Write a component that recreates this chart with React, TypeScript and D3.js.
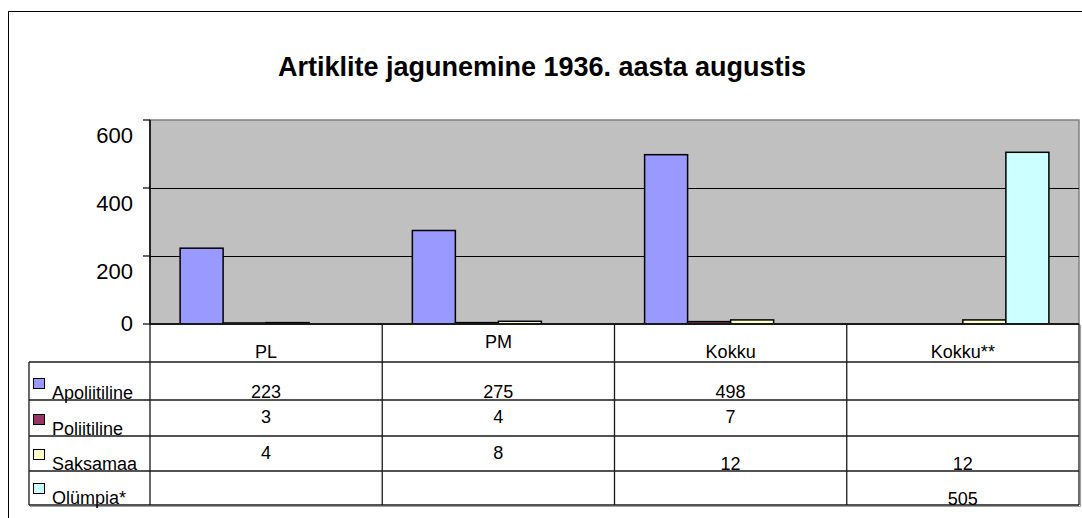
import * as d3 from 'd3';
import React from 'react';

// chart data
const categories = ['PL', 'PM', 'Kokku', 'Kokku**'];
const seriesNames = ['Apoliitiline', 'Poliitiline', 'Saksamaa', 'Olümpia*'];
const apoliitiline: (number | null)[] = [223, 275, 498, null];
const poliitiline: (number | null)[] = [3, 4, 7, null];
const saksamaa: (number | null)[] = [4, 8, 12, 12];
const olumpia: (number | null)[] = [null, null, null, 505];
const yTicks = [0, 200, 400, 600];
const title = 'Artiklite jagunemine 1936. aasta augustis';

const seriesValues = [apoliitiline, poliitiline, saksamaa, olumpia];
const colors = ['#9999FF', '#993366', '#FFFFCC', '#CCFFFF'];

const width = 1082;
const height = 518;
const plot = { left: 150, right: 1079, top: 120, bottom: 324 };
const rowEdges = [362, 400, 436, 471, 505];
const legendLeft = 29;
const font = '"Liberation Sans", Arial, sans-serif';

// cells whose text sits high in the cell in the original (Excel quirk)
const raisedHeader = new Set(['PM']);
const raisedCells = new Set(['1-0', '1-1', '1-2', '2-0', '2-1']);

export default function App() {
    const x = d3.scaleBand().domain(categories).range([plot.left, plot.right]).padding(0);
    const inner = d3
        .scaleBand()
        .domain(seriesNames)
        .range([0, x.bandwidth()])
        .paddingInner(0)
        .paddingOuter(0.7);
    const y = d3.scaleLinear().domain([0, 600]).range([plot.bottom, plot.top]);

    const lineColor = '#1a1a1a';

    return (
        <svg
            width={width}
            height={height}
            style={{ position: 'absolute', left: 0, top: 0, background: '#fff' }}
            fontFamily={font}
        >
            {/* outer frame */}
            <rect x={8.5} y={11.5} width={1200} height={700} fill="none" stroke="#000" strokeWidth={1} />

            <text x={542} y={76} textAnchor="middle" fontSize={27} fontWeight="bold">
                {title}
            </text>

            {/* plot area */}
            <rect
                x={plot.left}
                y={plot.top}
                width={plot.right - plot.left}
                height={plot.bottom - plot.top}
                fill="#C0C0C0"
                stroke="#808080"
                strokeWidth={1.5}
            />
            {yTicks
                .filter((t) => t > 0 && t < 600)
                .map((t) => (
                    <line
                        key={t}
                        x1={plot.left}
                        x2={plot.right}
                        y1={Math.round(y(t)) + 0.5}
                        y2={Math.round(y(t)) + 0.5}
                        stroke="#000"
                        strokeWidth={1}
                    />
                ))}

            {/* bars */}
            {categories.map((c, ci) =>
                seriesNames.map((s, si) => {
                    const v = seriesValues[si][ci];
                    if (v == null) return null;
                    return (
                        <rect
                            key={c + s}
                            x={x(c)! + inner(s)!}
                            y={y(v)}
                            width={inner.bandwidth()}
                            height={y(0) - y(v)}
                            fill={colors[si]}
                            stroke="#000"
                            strokeWidth={1.5}
                        />
                    );
                }),
            )}

            {/* y axis */}
            <line x1={plot.left} x2={plot.left} y1={plot.top} y2={plot.bottom} stroke="#000" strokeWidth={1.5} />
            {yTicks.map((t) => (
                <g key={t}>
                    <line x1={plot.left - 7} x2={plot.left} y1={y(t)} y2={y(t)} stroke="#000" strokeWidth={1.2} />
                    <text
                        x={133}
                        y={y(t) + (t > 0 ? 15 : -1)}
                        textAnchor="end"
                        dominantBaseline="central"
                        fontSize={22}
                    >
                        {t}
                    </text>
                </g>
            ))}

            {/* data table */}
            <g stroke={lineColor} strokeWidth={1.3}>
                <line x1={plot.left} x2={plot.right} y1={plot.bottom} y2={plot.bottom} strokeWidth={1.8} />
                {rowEdges.map((r) => (
                    <line key={r} x1={legendLeft} x2={plot.right} y1={r} y2={r} />
                ))}
                {categories.map((c) => (
                    <line key={c} x1={x(c)!} x2={x(c)!} y1={plot.bottom} y2={rowEdges[rowEdges.length - 1]} />
                ))}
                <line x1={plot.right} x2={plot.right} y1={plot.bottom} y2={rowEdges[rowEdges.length - 1]} />
                <line x1={legendLeft} x2={legendLeft} y1={rowEdges[0]} y2={rowEdges[rowEdges.length - 1]} />
            </g>
            <g stroke="#a0a0a0" strokeWidth={1.2}>
                <line x1={plot.right + 1.5} x2={plot.right + 1.5} y1={plot.bottom + 1} y2={rowEdges[4] + 1.5} />
                <line x1={legendLeft + 1} x2={plot.right + 1.5} y1={rowEdges[4] + 1.5} y2={rowEdges[4] + 1.5} />
            </g>

            {categories.map((c) => (
                <text
                    key={c}
                    x={x(c)! + x.bandwidth() / 2}
                    y={raisedHeader.has(c) ? plot.bottom + 24 : rowEdges[0] - 4}
                    textAnchor="middle"
                    fontSize={18}
                >
                    {c}
                </text>
            ))}

            {seriesNames.map((s, si) => {
                const top = rowEdges[si];
                const bottom = rowEdges[si + 1];
                return (
                    <g key={s}>
                        <rect
                            x={33.5}
                            y={bottom - 21.5}
                            width={11}
                            height={10}
                            fill={colors[si]}
                            stroke="#000"
                            strokeWidth={1}
                        />
                        <text x={52} y={bottom - 1.5} fontSize={18}>
                            {s}
                        </text>
                        {categories.map((c, ci) => {
                            const v = seriesValues[si][ci];
                            if (v == null) return null;
                            const raised = raisedCells.has(`${si}-${ci}`);
                            return (
                                <text
                                    key={c}
                                    x={x(c)! + x.bandwidth() / 2}
                                    y={raised ? top + 22.5 : bottom - (si === 0 ? 2 : si === 3 ? 0 : 1)}
                                    textAnchor="middle"
                                    fontSize={18}
                                >
                                    {v}
                                </text>
                            );
                        })}
                    </g>
                );
            })}
        </svg>
    );
}
